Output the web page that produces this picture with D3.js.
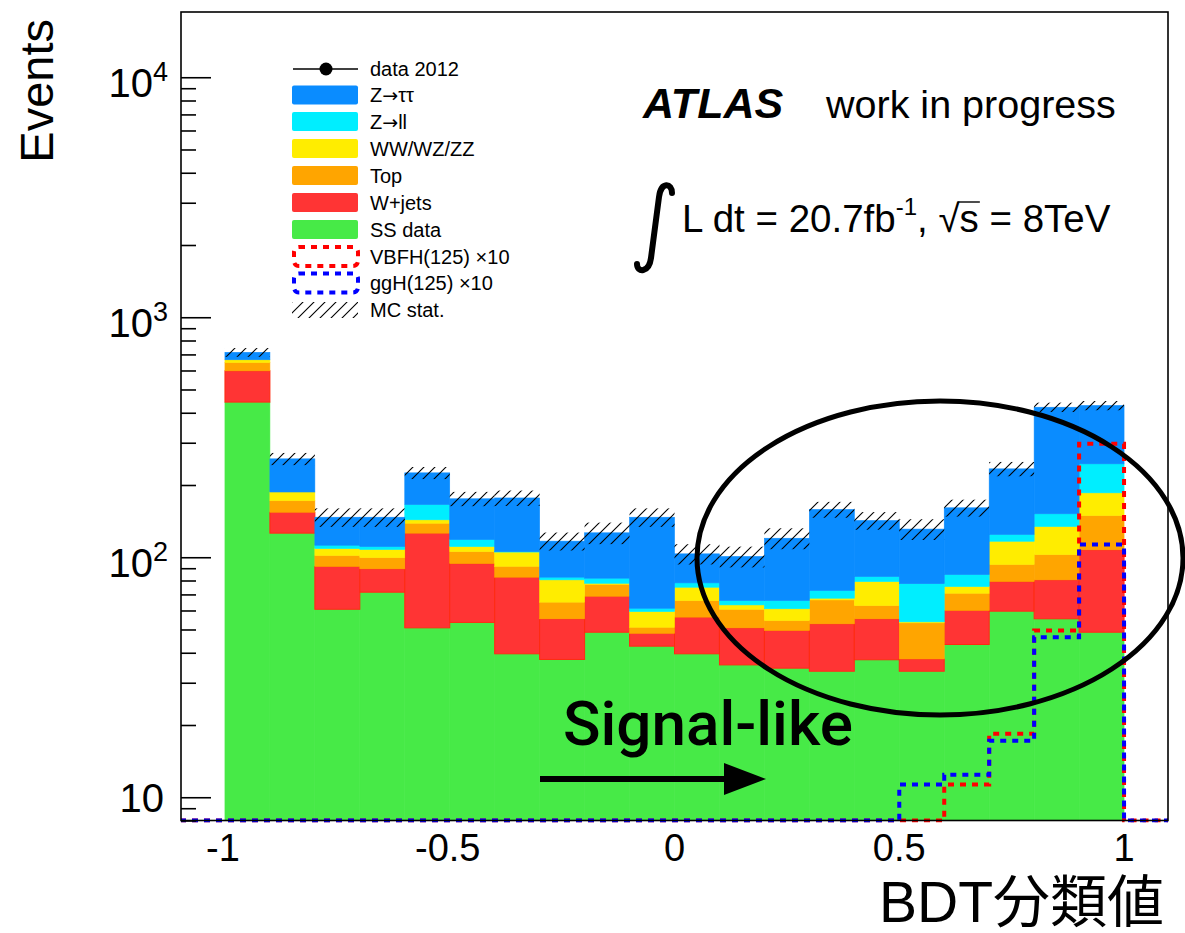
<!DOCTYPE html>
<html>
<head>
<meta charset="utf-8">
<script src="https://cdn.jsdelivr.net/npm/d3@7"></script>
<style>
  body { margin: 0; background: #fff; }
  text { font-family: "Liberation Sans", Arial, Helvetica, sans-serif; fill: #000; }
</style>
</head>
<body>
<svg id="chart" width="1185" height="933"></svg>
<script>
// BDT score bins (lower edges), width 0.1
const binLow = [-1.0, -0.9, -0.8, -0.7, -0.6, -0.5, -0.4, -0.3, -0.2, -0.1,
                 0.0,  0.1,  0.2,  0.3,  0.4,  0.5,  0.6,  0.7,  0.8,  0.9];
const binWidth = 0.1;

// Background contributions per bin (events), stacked bottom to top
const ssData  = [443, 126, 60.7, 71.5, 50.8, 53.5, 39.6, 37.5, 48.7, 42.6, 39.6, 35.6, 34.5, 33.5, 37.4, 33.5, 43.3, 59.6, 55.4, 48.7];
const wJets   = [155, 28, 30.8, 18.0, 75.2, 40.6, 43.0, 17.9, 20.1, 5.6, 16.7, 15.2, 15.0, 19.3, 18.0, 4.2, 16.7, 19.6, 25.1, 58.7];
const topBkg  = [50, 18, 10.2, 10.2, 12.6, 11.5, 9.1, 9.6, 8.3, 2.9, 9.7, 9.9, 5.0, 13.6, 7.5, 15.6, 10.8, 14.1, 22.1, 41.8];
const diboson = [17, 15, 7.0, 8.0, 4.6, 5.2, 13.4, 15.5, 0.8, 8.3, 9.0, 2.6, 6.5, 1.1, 16.3, 0.5, 4.7, 23.3, 31.7, 36.3];
const zll     = [0, 0, 3.5, 3.1, 22.6, 7.7, 0.5, 2.1, 3.9, 1.9, 3.2, 2.7, 5.0, 5.2, 3.9, 23.8, 9.2, 7.8, 17.4, 59.5];
const ztautau = [49, 70, 34.6, 36, 58.9, 56.7, 71, 34.1, 44.6, 85.5, 25.1, 34.7, 54, 85.4, 59.1, 53.4, 76, 109.1, 270, 183.7];

// MC statistical uncertainty on the total background (events)
const mcStatErr = [30, 15, 13, 13, 13, 12, 13, 10, 13, 13, 10, 10, 12, 12, 12, 13, 13, 16, 19, 19];

// Signal templates scaled by 10
const vbfH = [0.05, 0.05, 0.06, 0.08, 0.1, 0.1, 0.12, 0.15, 0.2, 0.25, 0.3, 0.45, 0.6, 0.9, 1.6, 3.2, 11.3, 18.4, 49.5, 297];
const ggH  = [0.2, 0.2, 0.25, 0.3, 0.35, 0.4, 0.5, 0.6, 0.7, 0.9, 1.1, 1.5, 2.2, 3.4, 5.5, 11.3, 12.4, 17.2, 46.4, 113];

// Axis ticks
const xTickValues = [-1, -0.5, 0, 0.5, 1];
const xTickLabels = ["-1", "-0.5", "0", "0.5", "1"];
const yMajorValues = [10, 100, 1000, 10000];
const yMajorExponents = ["", "2", "3", "4"];
const yMinorValues = [8, 9, 20, 30, 40, 50, 60, 70, 80, 90, 200, 300, 400, 500, 600, 700, 800, 900,
                      2000, 3000, 4000, 5000, 6000, 7000, 8000, 9000];

// Legend entries (arrow drawn with a font that has a full-width arrow glyph)
const legendLabels = ["data 2012", "Z|\u2192|\u03c4\u03c4", "Z|\u2192|ll", "WW/WZ/ZZ", "Top", "W+jets", "SS data",
                      "VBFH(125) \u00d710", "ggH(125) \u00d710", "MC stat."];

const seriesKeys = ["ss", "wj", "top", "vv", "zll", "ztt"];
const seriesColors = { ss: "#47ea47", wj: "#ff3434", top: "#ffa500", vv: "#ffed00", zll: "#00eeff", ztt: "#0a8cff" };
const seriesEdge   = { ss: "#47ea47", wj: "#ff2a10", top: "#ffa500", vv: "#ffed00", zll: "#00eeff", ztt: "#0a8cff" };

const svg = d3.select("#chart");
svg.append("rect").attr("width", 1185).attr("height", 933).attr("fill", "#fff");

const frame = { left: 181, right: 1168, top: 12, bottom: 820.5 };

const x = d3.scaleLinear().domain([-1.1, 1.1]).range([frame.left - 1, frame.right + 1]);
const y = d3.scaleLog().domain([8, 18700]).range([frame.bottom, frame.top]).clamp(true);

// hatch pattern for the MC stat band
const defs = svg.append("defs");
const hatch = defs.append("pattern").attr("id", "hatch").attr("patternUnits", "userSpaceOnUse")
  .attr("width", 11).attr("height", 11);
hatch.append("path").attr("d", "M0,11 L11,0 M-3,3 L3,-3 M8,14 L14,8")
  .attr("stroke", "#000").attr("stroke-width", 1.1);

defs.append("clipPath").attr("id", "plotClip").append("rect")
  .attr("x", frame.left).attr("y", frame.top)
  .attr("width", frame.right - frame.left).attr("height", frame.bottom - frame.top + 2);

// stacked background
const rows = binLow.map((lo, i) => ({
  lo, ss: ssData[i], wj: wJets[i], top: topBkg[i], vv: diboson[i], zll: zll[i], ztt: ztautau[i]
}));
const stacked = d3.stack().keys(seriesKeys)(rows);

const plot = svg.append("g").attr("clip-path", "url(#plotClip)");

stacked.forEach(layer => {
  plot.append("g").selectAll("rect").data(layer).join("rect")
    .attr("x", d => x(d.data.lo))
    .attr("width", d => x(d.data.lo + binWidth) - x(d.data.lo))
    .attr("y", d => y(d[1]))
    .attr("height", d => Math.max(0, y(d[0]) - y(d[1])))
    .attr("fill", seriesColors[layer.key])
    .attr("stroke", seriesEdge[layer.key])
    .attr("stroke-width", layer.key === "wj" ? 1 : 0.6);
});

// MC stat uncertainty band
const totals = rows.map(r => seriesKeys.reduce((s, k) => s + r[k], 0));
plot.append("g").selectAll("rect").data(binLow).join("rect")
  .attr("x", (lo) => x(lo))
  .attr("width", lo => x(lo + binWidth) - x(lo))
  .attr("y", (lo, i) => y(totals[i] + mcStatErr[i]))
  .attr("height", (lo, i) => y(totals[i] - mcStatErr[i]) - y(totals[i] + mcStatErr[i]))
  .attr("fill", "url(#hatch)");

// signal outlines (step histograms)
function stepPoints(vals) {
  const ymin = y.domain()[0];
  const pts = [[x.domain()[0], ymin]];
  binLow.forEach((lo, i) => { pts.push([lo, vals[i]]); pts.push([lo + binWidth, vals[i]]); });
  pts.push([binLow[binLow.length - 1] + binWidth, ymin]);
  pts.push([x.domain()[1], ymin]);
  return pts;
}
const stepLine = d3.line().x(d => x(d[0])).y(d => y(d[1]));
[[vbfH, "#ff0000"], [ggH, "#0000ff"]].forEach(([vals, col]) => {
  plot.append("path").attr("d", stepLine(stepPoints(vals)))
    .attr("fill", "none").attr("stroke", col).attr("stroke-width", 4)
    .attr("stroke-dasharray", "6,6");
});

// frame
svg.append("rect").attr("x", frame.left).attr("y", frame.top)
  .attr("width", frame.right - frame.left).attr("height", frame.bottom - frame.top)
  .attr("fill", "none").attr("stroke", "#000").attr("stroke-width", 1.6);

// y axis ticks (inside the frame)
const yMajorAxis = d3.axisRight(y).tickValues(yMajorValues).tickSize(30).tickFormat("");
const yMinorAxis = d3.axisRight(y).tickValues(yMinorValues).tickSize(15).tickFormat("");
[yMajorAxis, yMinorAxis].forEach(ax => {
  const g = svg.append("g").attr("transform", `translate(${frame.left},0)`).call(ax);
  g.select(".domain").remove();
  g.selectAll(".tick line").attr("stroke", "#000").attr("stroke-width", 1.6);
});

// y tick labels
yMajorValues.forEach((v, i) => {
  const exp = yMajorExponents[i];
  const t = svg.append("text").attr("text-anchor", "end").attr("font-size", 40)
    .attr("x", exp ? 168 : 164).attr("y", y(v) + (exp ? 20 : 15));
  t.append("tspan").text("10");
  if (exp) t.append("tspan").attr("dy", -16).attr("font-size", 27).text(exp);
});

// x tick labels
xTickValues.forEach((v, i) => {
  svg.append("text").attr("text-anchor", "middle").attr("font-size", 38)
    .attr("x", x(v) + (v < 0 ? -2 : 0)).attr("y", 861).text(xTickLabels[i]);
});

// axis titles
svg.append("text").attr("text-anchor", "end").attr("font-size", 47)
  .attr("transform", "translate(53,19) rotate(-90)").text("Events");
svg.append("text").attr("text-anchor", "end").attr("font-size", 57)
  .attr("x", 1164).attr("y", 922)
  .style("font-family", "'Liberation Sans', 'Noto Sans CJK JP', sans-serif")
  .text("BDT\u5206\u985e\u5024");

// legend
const legX = 292, legW = 66, legTxt = 370;
const legRowY = [69, 95, 121.5, 148.5, 175.5, 202.5, 229.5, 256.5, 283, 310];
svg.append("line").attr("x1", legX + 1).attr("x2", legX + legW).attr("y1", legRowY[0]).attr("y2", legRowY[0])
  .attr("stroke", "#000").attr("stroke-width", 1.6);
svg.append("circle").attr("cx", legX + 34).attr("cy", legRowY[0]).attr("r", 6.5).attr("fill", "#000");
const fillKeys = ["ztt", "zll", "vv", "top", "wj", "ss"];
fillKeys.forEach((k, i) => {
  svg.append("rect").attr("x", legX).attr("y", legRowY[i + 1] - 9.5).attr("width", legW).attr("height", 19)
    .attr("rx", 2).attr("fill", seriesColors[k]);
});
[["#ff0000", 7], ["#0000ff", 8]].forEach(([col, row]) => {
  svg.append("rect").attr("x", legX + 2).attr("y", legRowY[row] - 9.5).attr("width", legW - 2).attr("height", 19)
    .attr("rx", 5).attr("fill", "none").attr("stroke", col).attr("stroke-width", 4)
    .attr("stroke-dasharray", "6,6");
});
svg.append("rect").attr("x", legX).attr("y", legRowY[9] - 8).attr("width", legW).attr("height", 16)
  .attr("fill", "url(#hatch)");
legendLabels.forEach((lab, i) => {
  const t = svg.append("text").attr("x", legTxt).attr("y", legRowY[i] + 7).attr("font-size", 20);
  lab.split("|").forEach(part => {
    const ts = t.append("tspan").text(part);
    if (part === "\u2192") ts.style("font-family", "'DejaVu Sans', sans-serif").attr("font-size", 19);
  });
});

// experiment label
svg.append("text").attr("x", 643).attr("y", 118).attr("font-size", 43)
  .attr("font-weight", "bold").attr("font-style", "italic").text("ATLAS");
svg.append("text").attr("x", 826).attr("y", 118).attr("font-size", 39.5).text("work in progress");

// luminosity and energy
svg.append("path")
  .attr("d", "M672,193 C672,183 661,181 659,197 L651,258 C649,273 637,273 637,264")
  .attr("fill", "none").attr("stroke", "#000").attr("stroke-width", 6).attr("stroke-linecap", "round");
const lumi = svg.append("text").attr("x", 682).attr("y", 232).attr("font-size", 38.5);
lumi.append("tspan").text("L dt = 20.7fb");
lumi.append("tspan").attr("dy", -17).attr("font-size", 24).text("-1");
lumi.append("tspan").attr("dy", 17).text(", \u221as = 8TeV");
{
  const node = lumi.node();
  const full = node.textContent;
  const iS = full.indexOf("\u221a") + 1;
  const s0 = node.getStartPositionOfChar(iS).x;
  const s1 = node.getEndPositionOfChar(iS).x;
  svg.append("line").attr("x1", s0 - 2).attr("x2", s1 + 1).attr("y1", 202).attr("y2", 202)
    .attr("stroke", "#000").attr("stroke-width", 1.4);
}

// signal-region annotation
svg.append("text").attr("x", 563).attr("y", 745).attr("font-size", 62)
  .style("font-family", "Roboto, 'Liberation Sans', sans-serif").attr("font-weight", 500)
  .text("Signal-like");
svg.append("line").attr("x1", 540).attr("x2", 735).attr("y1", 779).attr("y2", 779)
  .attr("stroke", "#000").attr("stroke-width", 6);
svg.append("path").attr("d", "M724,763 L766,779 L724,795 Z").attr("fill", "#000");

svg.append("ellipse").attr("cx", 940).attr("cy", 558).attr("rx", 243).attr("ry", 157)
  .attr("fill", "none").attr("stroke", "#000").attr("stroke-width", 5);
</script>
</body>
</html>
